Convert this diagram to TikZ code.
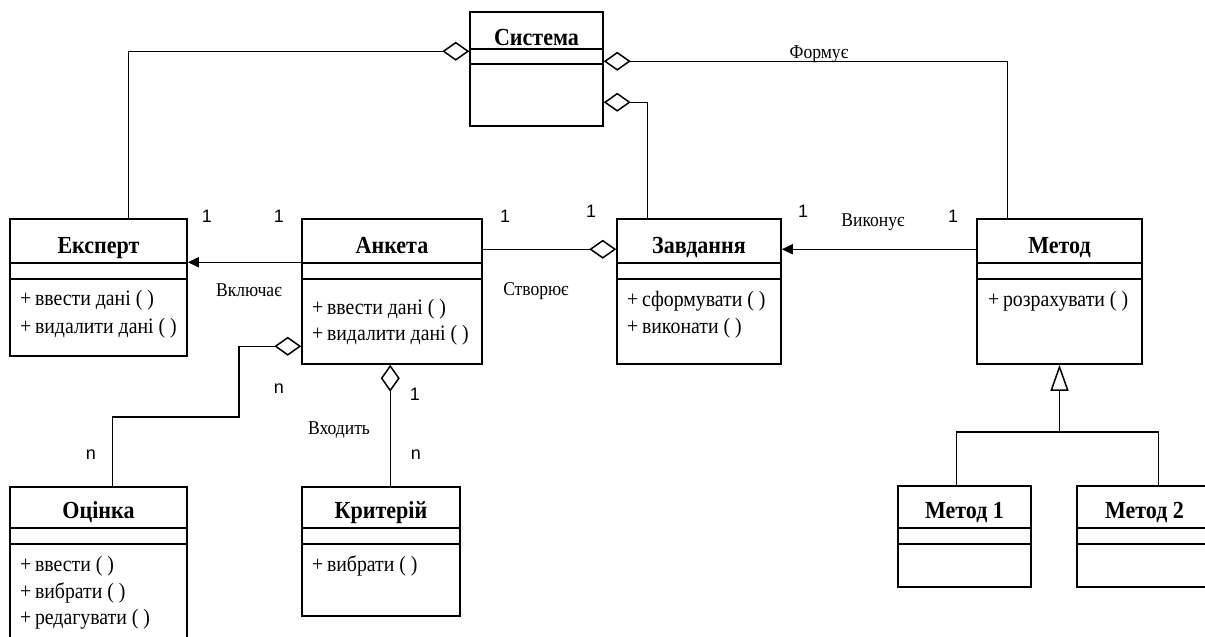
\documentclass[tikz,border=0pt]{standalone}
\usepackage{fontspec}
\setmainfont{Liberation Serif}[FakeStretch=0.9]
\newfontfamily\numfont{Liberation Sans}
\usetikzlibrary{arrows.meta,fit,calc}

\tikzset{
  conn/.style={line width=1.5pt},
  clsbox/.style={draw,line width=1.5pt,inner sep=0pt,rectangle},
  sepline/.style={line width=1.5pt},
  clstitle/.style={font=\fontsize{24.5}{28}\selectfont\bfseries,inner sep=0pt,anchor=base},
  attr/.style={font=\fontsize{22}{26}\selectfont,inner sep=0pt,anchor=base west},
  lbl/.style={font=\fontsize{19.5}{23}\selectfont,inner sep=0pt,anchor=base},
  mult/.style={font=\numfont\fontsize{18}{21}\selectfont,inner sep=0pt,anchor=base},
  aggr/.style={conn,-{Diamond[open,length=27pt,width=19pt]}},
  assoc/.style={conn,-{Triangle[length=11pt,width=10pt]}},
  gen/.style={conn,-{Triangle[open,length=26pt,width=18pt]}},
}

% #1 name #2 x1 #3 y1 #4 x2 #5 y2 #6 sep1 #7 sep2 #8 title centre y #9 title
\newcommand\umlclass[9]{%
  \node[clsbox,fit={(#2,#3) (#4,#5)}] (#1) {};
  \draw[sepline] (#2,#6) -- (#4,#6) (#2,#7) -- (#4,#7);
  \node[clstitle] (#1-title) at ({(#2+#4)/2},{#8+8}) {#9};
}

\begin{document}
\begin{tikzpicture}[x=1pt,y=-1pt]
\useasboundingbox (0,0) rectangle (1205,637);
\clip (0,0) rectangle (1205,637);
\fill[white] (0,0) rectangle (1205,637);

% classes
\umlclass{sys}{470}{12}{603}{126}{49}{64}{37}{Система}
\umlclass{eksp}{10}{219}{187}{356}{263}{279}{245}{Експерт}
\umlclass{anketa}{302}{219}{482}{364}{263}{279}{245}{Анкета}
\umlclass{zavd}{617}{219}{781}{364}{263}{279}{245}{Завдання}
\umlclass{metod}{977}{219}{1142}{364}{263}{279}{245}{Метод}
\umlclass{ocinka}{10}{487}{187}{660}{528}{544}{510}{Оцінка}
\umlclass{kryt}{302}{487}{460}{616}{528}{544}{510}{Критерій}
\umlclass{mone}{898}{486}{1031}{587}{528}{544}{510}{Метод 1}
\umlclass{mtwo}{1077}{486}{1212}{587}{528}{544}{510}{Метод 2}

% attributes
\node[attr] (eksp-a1) at (20,305) {+\,ввести дані ( )};
\node[attr] (eksp-a2) at (20,333) {+\,видалити дані ( )};
\node[attr] (anketa-a1) at (312,314) {+\,ввести дані ( )};
\node[attr] (anketa-a2) at (312,340) {+\,видалити дані ( )};
\node[attr] (zavd-a1) at (627,306) {+\,сформувати ( )};
\node[attr] (zavd-a2) at (627,333) {+\,виконати ( )};
\node[attr] (metod-a1) at (988,306) {+\,розрахувати ( )};
\node[attr] (ocinka-a1) at (20,571) {+\,ввести ( )};
\node[attr] (ocinka-a2) at (20,598) {+\,вибрати ( )};
\node[attr] (ocinka-a3) at (20,624) {+\,редагувати ( )};
\node[attr] (kryt-a1) at (312,571) {+\,вибрати ( )};

% connectors
\draw[aggr] ([xshift=119pt]eksp.north west) |- ([yshift=-40pt]sys.north west);
\draw[aggr] ([xshift=31pt]metod.north west) |- ([yshift=-50pt]sys.north east);
\draw[aggr] ([xshift=31pt]zavd.north west) |- ([yshift=-91pt]sys.north east);
\draw[aggr] ([yshift=-31pt]anketa.north east) -- ([yshift=-31pt]zavd.north west);
\draw[assoc] ([yshift=-31pt]metod.north west) -- ([yshift=-31pt]zavd.north east);
\draw[assoc] ([yshift=-44pt]anketa.north west) -- ([yshift=-44pt]eksp.north east);
\draw[aggr] ([xshift=103pt]ocinka.north west) |- (239,417) |- ([yshift=-128pt]anketa.north west);
\draw[aggr] ([xshift=89pt]kryt.north west) -- ([xshift=89pt]anketa.south west);
\coordinate (genjoin) at ([yshift=-67pt]metod.south);
\draw[conn] ([xshift=59pt]mone.north west) |- (genjoin) -| ([xshift=82pt]mtwo.north west);
\draw[gen] (genjoin) -- (metod.south);

% labels
\node[lbl] (l-form) at (819,58) {Формує};
\node[lbl] (l-vkl) at (249,296) {Включає};
\node[lbl] (l-stv) at (536,295) {Створює};
\node[lbl] (l-vyk) at (873,226) {Виконує};
\node[lbl] (l-vkh) at (339,434) {Входить};

% multiplicities
\node[mult] (m1) at (207,222) {1};
\node[mult] (m2) at (279,222) {1};
\node[mult] (m3) at (505,222) {1};
\node[mult] (m4) at (591,217) {1};
\node[mult] (m5) at (803,217) {1};
\node[mult] (m6) at (953,222) {1};
\node[mult] (m7) at (415,400) {1};
\node[mult] (n1) at (279,393) {n};
\node[mult] (n2) at (91,459) {n};
\node[mult] (n3) at (416,459) {n};
\end{tikzpicture}
\end{document}
